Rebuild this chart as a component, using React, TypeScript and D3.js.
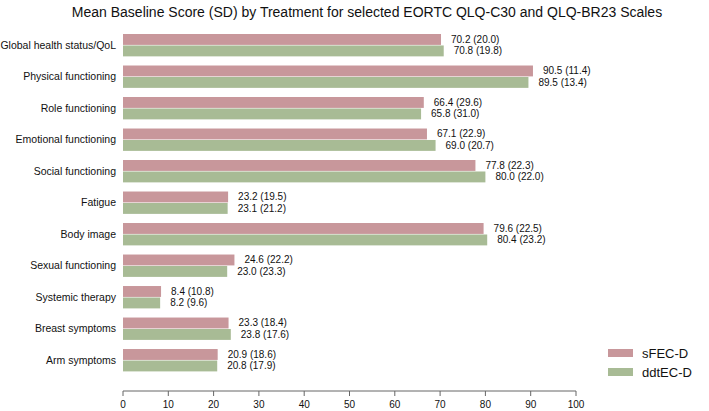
import React from "react";
import * as d3 from "d3";

const categories = [
  "Global health status/QoL",
  "Physical functioning",
  "Role functioning",
  "Emotional functioning",
  "Social functioning",
  "Fatigue",
  "Body image",
  "Sexual functioning",
  "Systemic therapy",
  "Breast symptoms",
  "Arm symptoms",
];
const seriesNames = ["sFEC-D", "ddtEC-D"];
const sfecMean = [70.2, 90.5, 66.4, 67.1, 77.8, 23.2, 79.6, 24.6, 8.4, 23.3, 20.9];
const sfecSD = [20.0, 11.4, 29.6, 22.9, 22.3, 19.5, 22.5, 22.2, 10.8, 18.4, 18.6];
const ddtMean = [70.8, 89.5, 65.8, 69.0, 80.0, 23.1, 80.4, 23.0, 8.2, 23.8, 20.8];
const ddtSD = [19.8, 13.4, 31.0, 20.7, 22.0, 21.2, 23.2, 23.3, 9.6, 17.6, 17.9];
const xTicks = [0, 10, 20, 30, 40, 50, 60, 70, 80, 90, 100];
const title = "Mean Baseline Score (SD) by Treatment for selected EORTC QLQ-C30 and QLQ-BR23 Scales";

const colors = ["#c8979b", "#a8bb95"];
const FONT = "'Liberation Sans', Arial, Helvetica, sans-serif";

export default function App() {
  const W = 709, H = 411;
  const x = d3.scaleLinear().domain([0, 100]).range([123, 576]);
  const y = d3.scaleBand<string>().domain(categories).range([34, 371.4]).paddingInner(0.29).paddingOuter(0);
  const sub = d3.scaleBand<string>().domain(seriesNames).range([0, y.bandwidth()]).paddingInner(0.05);
  const means = [sfecMean, ddtMean];
  const sds = [sfecSD, ddtSD];
  const axisY = 391;

  return (
    <svg width={W} height={H} style={{ position: "absolute", left: 0, top: 0, background: "#fff" }} fontFamily={FONT}>
      <rect width={W} height={H} fill="#fff" />
      <text x={367} y={17} textAnchor="middle" fontSize={14} fill="#111">{title}</text>
      {categories.map((c, i) => (
        <g key={c}>
          <text x={116} y={(y(c) as number) + y.bandwidth() / 2} dy="0.35em" textAnchor="end" fontSize={10.5} fill="#111">{c}</text>
          {seriesNames.map((s, k) => {
            const yy = (y(c) as number) + (sub(s) as number);
            const v = means[k][i];
            return (
              <g key={s}>
                <rect x={x(0)} y={yy} width={x(v) - x(0)} height={sub.bandwidth()} fill={colors[k]} />
                <text x={x(v) + 10} y={yy + sub.bandwidth() / 2} dy="0.35em" fontSize={10} fill="#111">
                  {`${v.toFixed(1)} (${sds[k][i].toFixed(1)})`}
                </text>
              </g>
            );
          })}
        </g>
      ))}
      <line x1={x(0)} x2={x(100)} y1={axisY} y2={axisY} stroke="#666" strokeWidth={1} />
      {xTicks.map((t) => (
        <g key={t}>
          <line x1={x(t)} x2={x(t)} y1={axisY} y2={axisY + 5} stroke="#666" strokeWidth={1} />
          <text x={x(t)} y={axisY + 13} dy="0.35em" textAnchor="middle" fontSize={10} fill="#111">{t}</text>
        </g>
      ))}
      {seriesNames.map((s, k) => (
        <g key={s}>
          <rect x={608} y={349 + k * 19} width={25} height={8} fill={colors[k]} />
          <text x={642} y={353 + k * 19} dy="0.35em" fontSize={13} fill="#111">{s}</text>
        </g>
      ))}
    </svg>
  );
}
